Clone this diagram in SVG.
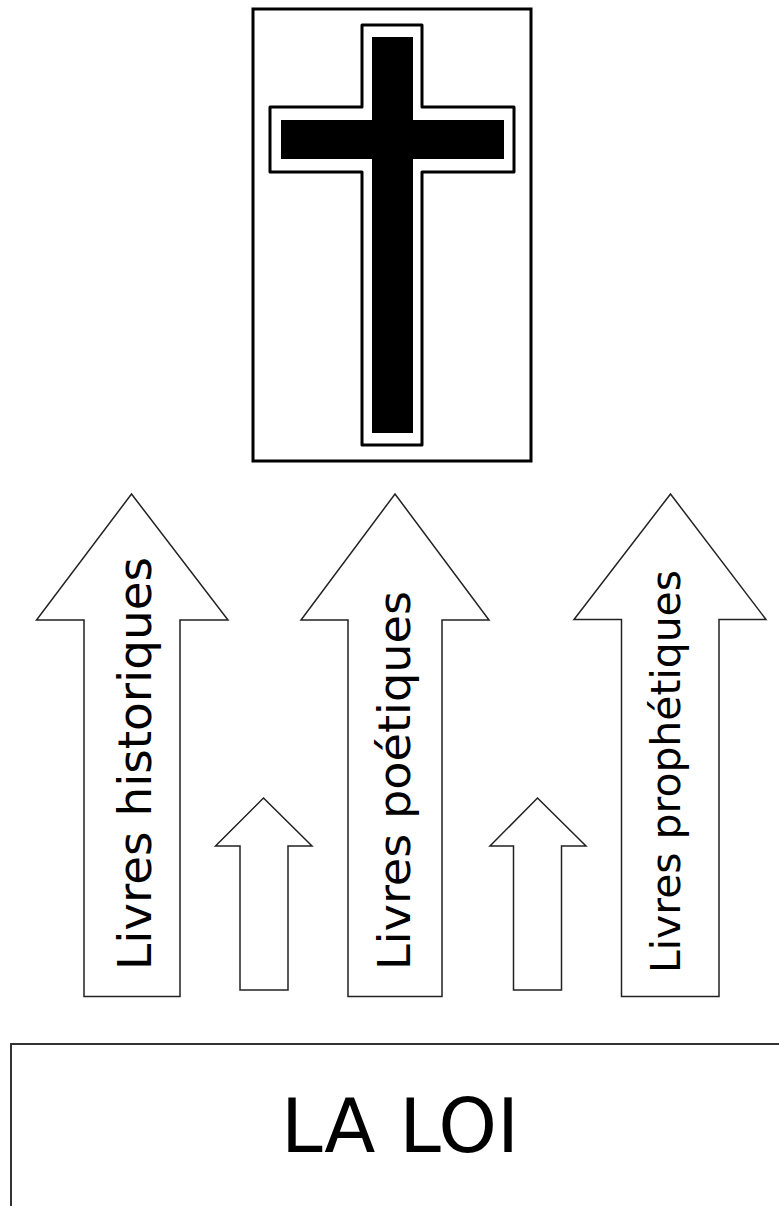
<svg xmlns="http://www.w3.org/2000/svg" width="779" height="1206" viewBox="0 0 779 1206">
<style>
.arrow{fill:#fff;stroke:#222;stroke-width:1.5;stroke-linejoin:miter}
.lbl{font-family:"DejaVu Sans","Verdana",sans-serif;fill:#000}
.outline{fill:none;stroke:#000;stroke-width:3;stroke-linejoin:round}
</style>
<rect width="779" height="1206" fill="#fff"/>
<g id="cross">
<rect x="253" y="9" width="278" height="452" fill="#fff" stroke="#000" stroke-width="3"/>
<path class="outline" d="M362,25 H422 V107 H514 V172 H422 V445 H362 V172 H270 V107 H362 Z"/>
<path fill="#000" d="M372,37 H413 V120 H504 V159 H413 V433 H372 V159 H281 V120 H372 Z"/>
</g>
<g id="arrow-historiques">
<path class="arrow" d="M131.5,494 L228,620 H180 V996.5 H84 V620 H36.5 Z"/>
<text class="lbl" font-size="47" textLength="413" lengthAdjust="spacingAndGlyphs" transform="translate(151,970) rotate(-90)">Livres historiques</text>
</g>
<g id="arrow-small-1">
<path class="arrow" d="M263.5,798 L312,846 H288 V990 H240 V846 H215.5 Z"/>
</g>
<g id="arrow-poetiques">
<path class="arrow" d="M395,494 L489,620 H442 V996.5 H348 V620 H301 Z"/>
<text class="lbl" font-size="45" textLength="379" lengthAdjust="spacingAndGlyphs" transform="translate(410,970) rotate(-90)">Livres poétiques</text>
</g>
<g id="arrow-small-2">
<path class="arrow" d="M537.5,798 L586,846 H561.5 V990 H513.5 V846 H490 Z"/>
</g>
<g id="arrow-prophetiques">
<path class="arrow" d="M670.5,494 L766,619.5 H719 V996.5 H621.5 V619.5 H574 Z"/>
<text class="lbl" font-size="40" textLength="403" lengthAdjust="spacingAndGlyphs" transform="translate(680,973) rotate(-90)">Livres prophétiques</text>
</g>
<g id="la-loi">
<rect x="11" y="1044" width="780" height="180" fill="#fff" stroke="#333" stroke-width="2"/>
<text class="lbl" x="400" y="1152" font-size="74" text-anchor="middle" textLength="238" lengthAdjust="spacingAndGlyphs">LA LOI</text>
</g>
<g id="connectors"></g>
</svg>
